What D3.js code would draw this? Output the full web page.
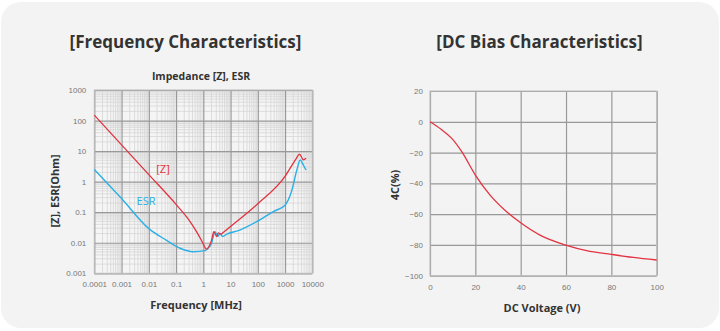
<!DOCTYPE html>
<html><head><meta charset="utf-8">
<script src="https://cdn.jsdelivr.net/npm/d3@7"></script>
<style>
html,body{margin:0;padding:0;background:#fff;}
svg{display:block;font-family:"Open Sans",sans-serif;}
</style></head>
<body><svg id="c" width="720" height="331"></svg>
<script>
// ---- Frequency characteristics data ----
const zFreq = [0.0001,0.001,0.01,0.1,0.3,0.6,0.9,1.3,2.0,2.45,3.1,3.55,4.4,5.5,10,100,1000,2500,3400,4700,5900];
const zValues = [150,16,1.7,0.18,0.055,0.021,0.011,0.0062,0.012,0.023,0.016,0.021,0.019,0.022,0.034,0.19,1.5,5.5,8,5.2,5.8];
const esrFreq = [0.0001,0.001,0.01,0.045,0.14,0.43,1.15,1.5,2.0,2.7,3.4,4.1,5.1,7.2,22,91,370,1000,1800,2700,3600,4700,5900];
const esrValues = [2.5,0.28,0.029,0.012,0.0066,0.0051,0.0055,0.0066,0.0095,0.023,0.016,0.02,0.016,0.019,0.026,0.049,0.105,0.17,0.54,2.4,5.1,3.5,2.4];
const freqTicks = [0.0001,0.001,0.01,0.1,1,10,100,1000,10000];
const freqTickLabels = ["0.0001","0.001","0.01","0.1","1","10","100","1000","10000"];
const impTicks = [0.001,0.01,0.1,1,10,100,1000];
const impTickLabels = ["0.001","0.01","0.1","1","10","100","1000"];
// ---- DC bias data ----
const dcVoltage = [0,5,9.6,14,20,26.5,33.8,39.7,48.5,59.9,69.1,79.9,89.7,100];
const dcChange = [0,-5,-10.8,-19.4,-34.6,-47.6,-58.4,-65.3,-73.6,-80.1,-83.7,-86.1,-88.1,-89.8];
const voltTicks = [0,20,40,60,80,100];
const changeTicks = [20,0,-20,-40,-60,-80,-100];

const svg = d3.select("#c");
svg.append("rect").attr("x",1).attr("y",2).attr("width",718).attr("height",326).attr("rx",20).attr("fill","#f3f3f3");

const RED = "#e23340", BLUE = "#2bb0e6", MAJOR = "#999999", MINOR = "#d6d6d6", TXT = "#333", TICK = "#777";

// ===== Left chart =====
const L = {x0:94.3, x1:312.3, y0:90, y1:273.3};
const xL = d3.scaleLog().domain([0.0001,10000]).range([L.x0,L.x1]);
const yL = d3.scaleLog().domain([0.001,1000]).range([L.y1,L.y0]);
const gL = svg.append("g");
gL.append("rect").attr("x",L.x0).attr("y",L.y0).attr("width",L.x1-L.x0).attr("height",L.y1-L.y0).attr("fill","#f5f5f5");
// minor grid
const minorX = [], minorY = [];
for (let e=-4;e<4;e++) for (let m=2;m<=9;m++) minorX.push(m*Math.pow(10,e));
for (let e=-3;e<3;e++) for (let m=2;m<=9;m++) minorY.push(m*Math.pow(10,e));
gL.selectAll(".mx").data(minorX).join("line").attr("x1",d=>xL(d)).attr("x2",d=>xL(d)).attr("y1",L.y0).attr("y2",L.y1).attr("stroke",MINOR).attr("stroke-width",0.8);
gL.selectAll(".my").data(minorY).join("line").attr("y1",d=>yL(d)).attr("y2",d=>yL(d)).attr("x1",L.x0).attr("x2",L.x1).attr("stroke",MINOR).attr("stroke-width",0.8);
// major grid via axes
gL.append("g").attr("transform",`translate(0,${L.y1})`)
  .call(d3.axisBottom(xL).tickValues(freqTicks).tickFormat((d,i)=>freqTickLabels[i]).tickSizeInner(-(L.y1-L.y0)).tickSizeOuter(0).tickPadding(8))
  .call(g=>{g.select(".domain").remove();g.selectAll("line").attr("stroke",MAJOR).attr("stroke-width",1.2);
    g.selectAll("text").attr("fill",TICK).attr("font-size","8px").attr("font-family","Liberation Sans, Arial, sans-serif");});
gL.append("g").attr("transform",`translate(${L.x0},0)`)
  .call(d3.axisLeft(yL).tickValues(impTicks).tickFormat((d,i)=>impTickLabels[i]).tickSizeInner(-(L.x1-L.x0)).tickSizeOuter(0).tickPadding(8))
  .call(g=>{g.select(".domain").remove();g.selectAll("line").attr("stroke",MAJOR).attr("stroke-width",1.2);
    g.selectAll("text").attr("fill",TICK).attr("font-size","8px").attr("font-family","Liberation Sans, Arial, sans-serif");});
gL.append("rect").attr("x",L.x0).attr("y",L.y0).attr("width",L.x1-L.x0).attr("height",L.y1-L.y0).attr("fill","none").attr("stroke","#bdbdbd").attr("stroke-width",1);
const lineL = d3.line().x(d=>xL(d[0])).y(d=>yL(d[1])).curve(d3.curveMonotoneX);
gL.append("path").datum(esrFreq.map((f,i)=>[f,esrValues[i]])).attr("d",lineL).attr("fill","none").attr("stroke",BLUE).attr("stroke-width",1.4);
gL.append("path").datum(zFreq.map((f,i)=>[f,zValues[i]])).attr("d",lineL).attr("fill","none").attr("stroke",RED).attr("stroke-width",1.3);
gL.append("text").attr("x",163).attr("y",173).attr("text-anchor","middle").attr("fill",RED).attr("font-size","11px").text("[Z]");
gL.append("text").attr("x",146).attr("y",205).attr("text-anchor","middle").attr("fill",BLUE).attr("font-size","11px").text("ESR");
svg.append("text").attr("x",185.5).attr("y",48).attr("text-anchor","middle").attr("font-size","17px").attr("font-weight","bold").attr("fill",TXT).text("[Frequency Characteristics]");
svg.append("text").attr("x",201).attr("y",80).attr("text-anchor","middle").attr("font-size","10.5px").attr("font-weight","bold").attr("fill",TXT).text("Impedance [Z], ESR");
svg.append("text").attr("x",196).attr("y",309).attr("text-anchor","middle").attr("font-size","11px").attr("font-weight","bold").attr("fill",TXT).text("Frequency [MHz]");
svg.append("text").attr("transform","translate(59,191) rotate(-90)").attr("text-anchor","middle").attr("font-size","11px").attr("font-weight","bold").attr("fill",TXT).text("[Z], ESR[Ohm]");

// ===== Right chart =====
const R = {x0:430, x1:656.7, y0:91, y1:275.7};
const xR = d3.scaleLinear().domain([0,100]).range([R.x0,R.x1]);
const yR = d3.scaleLinear().domain([-100,20]).range([R.y1,R.y0]);
const gR = svg.append("g");
gR.append("g").attr("transform",`translate(0,${R.y1})`)
  .call(d3.axisBottom(xR).tickValues(voltTicks).tickSizeInner(-(R.y1-R.y0)).tickSizeOuter(0).tickPadding(9))
  .call(g=>{g.select(".domain").remove();g.selectAll("line").attr("stroke",MAJOR).attr("stroke-width",1.2);
    g.selectAll("text").attr("fill",TICK).attr("font-size","8px").attr("font-family","Liberation Sans, Arial, sans-serif");});
gR.append("g").attr("transform",`translate(${R.x0},0)`)
  .call(d3.axisLeft(yR).tickValues(changeTicks).tickSizeInner(-(R.x1-R.x0)).tickSizeOuter(0).tickPadding(7))
  .call(g=>{g.select(".domain").remove();g.selectAll("line").attr("stroke",MAJOR).attr("stroke-width",1.2);
    g.selectAll("text").attr("fill",TICK).attr("font-size","8px").attr("font-family","Liberation Sans, Arial, sans-serif");});
gR.append("rect").attr("x",R.x0).attr("y",R.y0).attr("width",R.x1-R.x0).attr("height",R.y1-R.y0).attr("fill","none").attr("stroke","#bdbdbd").attr("stroke-width",1);
const lineR = d3.line().x(d=>xR(d[0])).y(d=>yR(d[1])).curve(d3.curveMonotoneX);
gR.append("path").datum(dcVoltage.map((v,i)=>[v,dcChange[i]])).attr("d",lineR).attr("fill","none").attr("stroke",RED).attr("stroke-width",1.3);
svg.append("text").attr("x",539.5).attr("y",48).attr("text-anchor","middle").attr("font-size","17px").attr("font-weight","bold").attr("fill",TXT).text("[DC Bias Characteristics]");
svg.append("text").attr("x",542).attr("y",312).attr("text-anchor","middle").attr("font-size","11px").attr("font-weight","bold").attr("fill",TXT).text("DC Voltage (V)");
svg.append("text").attr("transform","translate(399,185) rotate(-90)").attr("text-anchor","middle").attr("font-size","11px").attr("font-weight","bold").attr("fill",TXT).text("4C(%)");
</script></body></html>
